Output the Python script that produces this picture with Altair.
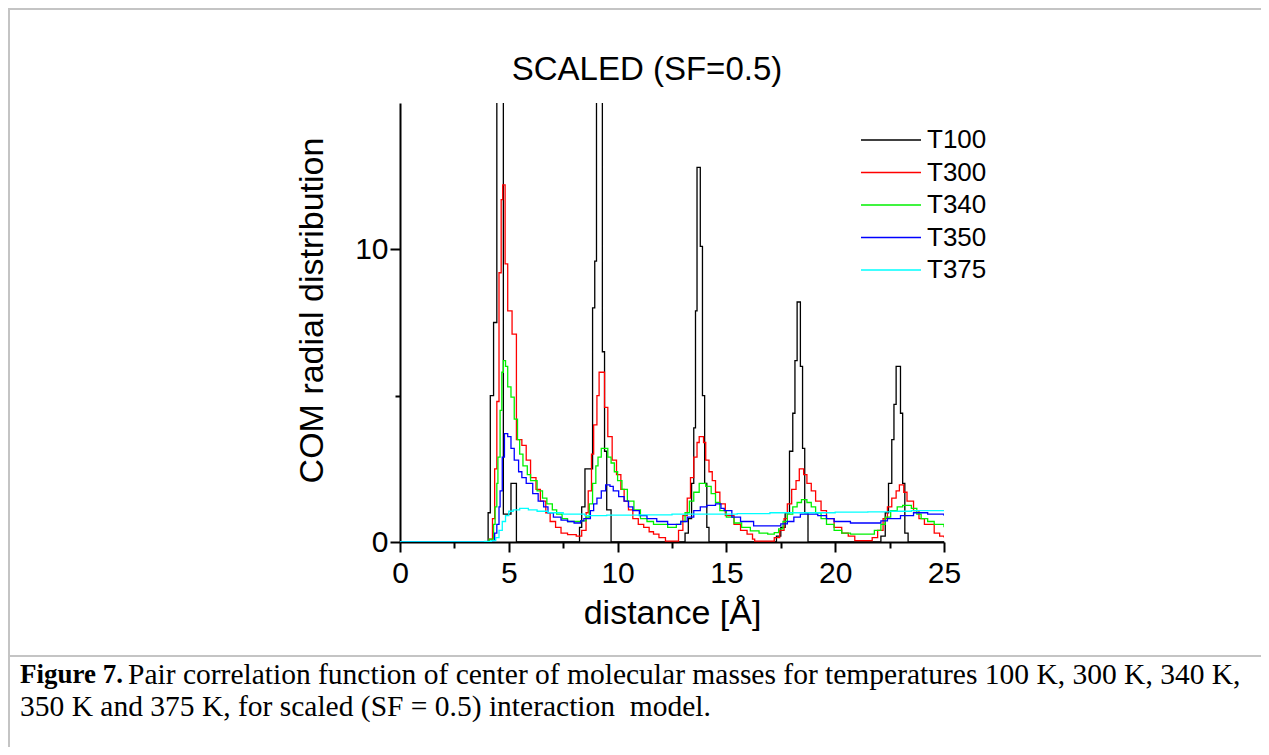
import altair as alt
import pandas as pd

SERIES = ["T100", "T300", "T340", "T350", "T375"]
COLORS = ["#000000", "#ff0000", "#00f000", "#0000ff", "#00ffff"]

T100_x = [0, 4.05, 4.15, 4.3, 4.45, 4.75, 5.1, 5.35, 8.25, 8.35, 8.5, 8.85, 8.95, 9.03, 9.3, 9.4, 9.5, 9.7,
          13.1, 13.25, 13.4, 13.5, 13.58, 13.65, 13.8, 13.9, 14.0, 14.1, 14.2,
          17.3, 17.5, 17.7, 17.9, 18.05, 18.15, 18.25, 18.4, 18.5, 18.6, 18.75,
          22.1, 22.3, 22.45, 22.6, 22.7, 22.8, 23.0, 23.1, 23.2, 23.35, 25]
T100_y = [0, 1.0, 5.0, 7.5, 25, 0.95, 2.0, 0, 0.5, 1.2, 2.5, 8.0, 9.6, 25, 6.5, 3.1, 1.1, 0,
          0.3, 0.8, 2.0, 3.9, 7.9, 12.8, 10.1, 5.0, 2.0, 0.5, 0,
          0.2, 0.5, 1.0, 3.1, 4.4, 6.2, 8.2, 6.0, 3.2, 1.0, 0,
          0.2, 1.0, 2.0, 3.5, 4.7, 6.0, 4.4, 2.0, 0.3, 0, 0]

T300_x = [0, 4.1, 4.25, 4.35, 4.45, 4.55, 4.65, 4.72, 4.83, 4.95, 5.15, 5.35, 5.6, 5.8, 6.0, 6.25, 6.45,
          6.7, 6.9, 7.15, 7.4, 7.7, 8.1, 8.35, 8.55, 8.65, 8.8, 8.9, 9.05, 9.15, 9.4, 9.55, 9.75, 9.95,
          10.15, 10.3, 10.5, 10.7, 10.95, 11.2, 11.45, 11.65, 11.9, 12.2, 12.8, 13.0, 13.2, 13.35, 13.5,
          13.65, 13.75, 13.95, 14.05, 14.2, 14.35, 14.5, 14.7, 14.95, 15.35, 15.65, 15.95, 16.2, 16.3,
          17.2, 17.45, 17.65, 17.8, 18.0, 18.2, 18.35, 18.55, 18.7, 18.9, 19.1, 19.35, 19.6, 19.95, 20.3,
          20.6, 20.9, 21.7, 21.95, 22.2, 22.4, 22.6, 22.8, 22.95, 23.15, 23.3, 23.6, 23.85, 24.1, 24.55,
          24.8, 25]
T300_y = [0, 0.1, 0.8, 2.5, 4.8, 9.2, 11.7, 12.2, 9.5, 7.9, 7.1, 3.5, 3.3, 2.8, 2.2, 1.8, 1.4,
          1.0, 0.7, 0.5, 0.3, 0.25, 0.2, 0.4, 1.0, 1.75, 3.0, 4.0, 5.0, 5.8, 4.6, 3.6, 2.8, 2.3,
          1.8, 1.4, 1.1, 0.8, 0.6, 0.5, 0.35, 0.27, 0.15, 0.03, 0.4, 0.9, 1.5, 2.2, 2.9,
          3.4, 3.6, 3.4, 2.8, 2.4, 2.1, 1.7, 1.3, 0.9, 0.6, 0.4, 0.27, 0.1, 0.03,
          0.15, 0.4, 0.8, 1.3, 1.8, 2.1, 2.5, 2.3, 2.0, 1.75, 1.4, 1.07, 0.8, 0.5, 0.3,
          0.2, 0.05, 0.15, 0.4, 0.8, 1.2, 1.5, 1.75, 1.95, 1.7, 1.4, 1.07, 0.8, 0.6, 0.3,
          0.2, 0.15]

T340_x = [0, 4.1, 4.3, 4.37, 4.45, 4.5, 4.6, 4.68, 4.75, 4.85, 4.95, 5.1, 5.25, 5.4, 5.5, 5.65, 5.85,
          6.0, 6.3, 6.55, 6.75, 7.0, 7.2, 7.45, 7.7, 8.3, 8.55, 8.7, 8.85, 9.0, 9.1, 9.25, 9.55, 9.7,
          9.85, 10.0, 10.2, 10.45, 10.75, 11.05, 11.35, 11.65, 12.3, 12.7, 12.9, 13.1, 13.3, 13.5, 13.75,
          14.05, 14.3, 14.5, 14.7, 15.0, 15.35, 15.7, 16.1, 16.5, 16.9, 17.2, 17.4, 17.6, 17.8, 18.05,
          18.25, 18.45, 18.7, 18.9, 19.1, 19.35, 19.6, 19.95, 20.3, 20.7, 21.5, 21.8, 22.1, 22.3, 22.55,
          22.85, 23.1, 23.5, 23.75, 23.95, 24.25, 24.55, 25]
T340_y = [0, 0.1, 0.6, 1.2, 2.0, 2.9, 4.5, 5.8, 6.2, 6.0, 5.3, 4.95, 4.2, 3.5, 3.0, 2.6, 2.3,
          2.1, 1.75, 1.5, 1.3, 1.1, 0.95, 0.8, 0.7, 0.72, 0.85, 1.3, 2.0, 2.6, 2.9, 3.2, 2.9, 2.7,
          2.4, 2.1, 1.8, 1.4, 1.1, 0.8, 0.7, 0.6, 0.5, 0.6, 0.7, 1.0, 1.4, 1.7, 2.0,
          1.9, 1.65, 1.35, 1.07, 0.85, 0.65, 0.5, 0.38, 0.3, 0.27, 0.32, 0.45, 0.7, 0.95, 1.2,
          1.35, 1.45, 1.35, 1.2, 1.0, 0.8, 0.6, 0.4, 0.3, 0.27, 0.27, 0.4, 0.6, 0.85, 1.07,
          1.2, 1.25, 1.15, 0.95, 0.8, 0.7, 0.6, 0.5]

T350_x = [0, 4.2, 4.35, 4.45, 4.55, 4.6, 4.7, 4.8, 4.95, 5.1, 5.25, 5.45, 5.6, 5.8, 6.1, 6.35, 6.6,
          6.8, 7.05, 7.4, 7.7, 8.0, 8.3, 8.45, 8.75, 8.9, 9.05, 9.25, 9.45, 9.65, 9.8, 10.05, 10.3,
          10.5, 10.7, 11.0, 11.35, 11.8, 12.3, 12.9, 13.2, 13.5, 13.8, 14.1, 14.5, 14.75, 14.9, 15.25,
          15.65, 16.25, 17.2, 17.5, 17.8, 18.1, 18.4, 19.2, 19.6, 19.95, 20.7, 21.8, 22.1, 22.4, 23.0,
          23.6, 24.25, 25]
T350_y = [0, 0.05, 0.3, 0.6, 1.2, 1.75, 2.9, 3.7, 3.6, 3.2, 2.8, 2.4, 2.2, 2.0, 1.65, 1.4, 1.2,
          1.0, 0.85, 0.75, 0.7, 0.65, 0.72, 0.8, 1.07, 1.3, 1.5, 1.75, 1.95, 1.9, 1.75, 1.55, 1.4,
          1.2, 1.07, 0.9, 0.8, 0.7, 0.6, 0.7, 0.85, 1.07, 1.2, 1.25, 1.3, 1.15, 1.07, 0.85,
          0.7, 0.55, 0.55, 0.62, 0.7, 0.85, 0.95, 0.9, 0.8, 0.7, 0.65, 0.65, 0.72, 0.8, 0.9,
          1.0, 0.95, 0.9]

T375_x = [0, 3.9, 4.2, 4.4, 4.55, 4.7, 4.85, 5.0, 5.2, 5.5, 5.9, 6.3, 6.8, 7.5, 8.5, 9.5, 11.0,
          12.5, 14.0, 15.5, 17.0, 18.5, 20.0, 21.5, 22.5, 23.5, 25]
T375_y = [0, 0.02, 0.05, 0.15, 0.4, 0.7, 0.9, 1.05, 1.1, 1.15, 1.1, 1.05, 1.0, 0.95, 0.9, 0.92, 0.93,
          0.95, 0.95, 0.97, 1.0, 1.0, 1.02, 1.03, 1.05, 1.07, 1.07]

X_TICKS = [0, 2.5, 5, 7.5, 10, 12.5, 15, 17.5, 20, 22.5, 25]
Y_TICKS = [0, 5, 10]

TITLE = "SCALED (SF=0.5)"
X_TITLE = "distance [Å]"
Y_TITLE = "COM radial distribution"
CAPTION_BOLD = "Figure 7."
CAPTION_1 = "Pair correlation function of center of molecular masses for temperatures 100 K, 300 K, 340 K,"
CAPTION_2 = "350 K and 375 K, for scaled (SF = 0.5) interaction\u00a0 model."

rows = []
for name, xs, ys in zip(SERIES, [T100_x, T300_x, T340_x, T350_x, T375_x],
                        [T100_y, T300_y, T340_y, T350_y, T375_y]):
    for i, (a, b) in enumerate(zip(xs, ys)):
        rows.append({"series": name, "x": a, "y": b, "order": i})
df = pd.DataFrame(rows)

lines = alt.Chart(df).mark_line(interpolate="step-after", clip=True, strokeWidth=1.3).encode(
    x=alt.X("x:Q", title=X_TITLE,
            scale=alt.Scale(domain=[0, 25], nice=False, zero=False),
            axis=alt.Axis(values=X_TICKS,
                          labelExpr="datum.value % 5 === 0 ? datum.label : ''",
                          tickSize={"condition": {"test": "datum.value % 5 === 0", "value": 10}, "value": 6},
                          labelPadding=6, titlePadding=8, labelFlush=False, labelOverlap=False)),
    y=alt.Y("y:Q", title=Y_TITLE,
            scale=alt.Scale(domain=[0, 15], nice=False),
            axis=alt.Axis(values=Y_TICKS,
                          labelExpr="datum.value % 10 === 0 ? datum.label : ''",
                          tickSize={"condition": {"test": "datum.value % 10 === 0", "value": 10}, "value": 5},
                          labelPadding=2, titlePadding=25, titleY=207,
                          labelFlush=False, labelOverlap=False)),
    color=alt.Color("series:N", scale=alt.Scale(domain=SERIES, range=COLORS),
                    legend=alt.Legend(title=None, orient="none", legendX=478, legendY=24,
                                      symbolType="M-3,0H3", symbolSize=400, symbolStrokeWidth=1.5,
                                      labelFont="Liberation Sans", labelFontSize=26, labelColor="black",
                                      labelOffset=23, rowPadding=6.5, padding=0)),
    order="order:Q",
)

one = pd.DataFrame({"t": [""]})
border_top = alt.Chart(one).mark_rule(color="#c4c4c4", strokeWidth=2).encode(
    x=alt.value(-392), x2=alt.value(861), y=alt.value(-94))
border_left = alt.Chart(one).mark_rule(color="#c4c4c4", strokeWidth=2).encode(
    x=alt.value(-391), y=alt.value(-95), y2=alt.value(644))
border_mid = alt.Chart(one).mark_rule(color="#c4c4c4", strokeWidth=2).encode(
    x=alt.value(-392), x2=alt.value(861), y=alt.value(553))

title_mark = alt.Chart(pd.DataFrame({"t": [TITLE]})).mark_text(
    align="center", baseline="middle", font="Liberation Sans", fontSize=33, color="black"
).encode(x=alt.value(247), y=alt.value(-33), text="t:N")

cap_b = alt.Chart(pd.DataFrame({"t": [CAPTION_BOLD]})).mark_text(
    align="left", baseline="middle", font="Liberation Serif", fontSize=27, fontWeight="bold", color="black"
).encode(x=alt.value(-380), y=alt.value(572), text="t:N")
cap_1 = alt.Chart(pd.DataFrame({"t": [CAPTION_1]})).mark_text(
    align="left", baseline="middle", font="Liberation Serif", fontSize=29.5, color="black"
).encode(x=alt.value(-272), y=alt.value(572), text="t:N")
cap_2 = alt.Chart(pd.DataFrame({"t": [CAPTION_2]})).mark_text(
    align="left", baseline="middle", font="Liberation Serif", fontSize=29.5, color="black"
).encode(x=alt.value(-380), y=alt.value(604), text="t:N")

chart = alt.layer(border_top, border_left, border_mid, lines, title_mark, cap_b, cap_1, cap_2).properties(
    width=544, height=439,
    autosize=alt.AutoSizeParams(type="none"),
    padding={"left": 392, "top": 95, "right": 317, "bottom": 205},
).configure_view(stroke=None).configure_axis(
    grid=False, domainColor="black", domainWidth=2, tickColor="black", tickWidth=2,
    labelFont="Liberation Sans", labelFontSize=30, labelColor="black",
    titleFont="Liberation Sans", titleFontSize=34, titleFontWeight="normal", titleColor="black",
)

chart.save("out.html", embed_options={"renderer": "svg", "actions": False})
